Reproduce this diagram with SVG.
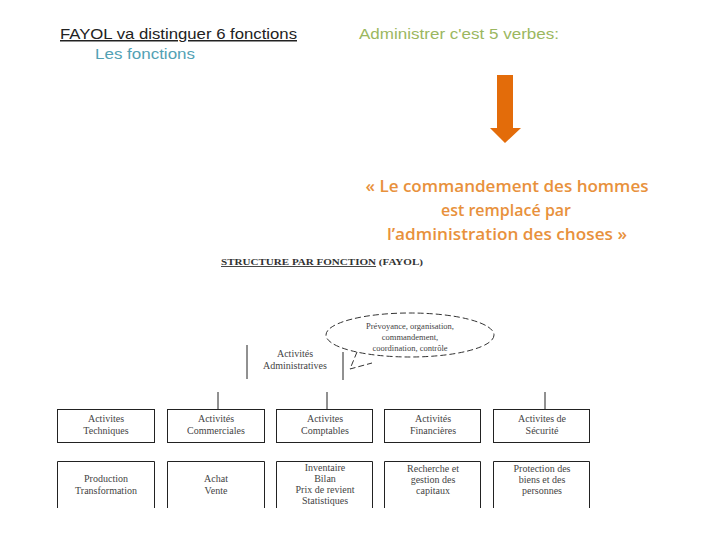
<svg xmlns="http://www.w3.org/2000/svg" width="720" height="540" viewBox="0 0 720 540">
<style>
.h{font-family:"Liberation Sans",Arial,sans-serif;font-size:15px}
.q{font-family:"Open Sans","Liberation Sans",sans-serif;font-size:16px;font-weight:600;fill:#e8913c;text-anchor:middle}
.t{font-family:"Liberation Serif","Times New Roman",serif;font-size:10px;fill:#444;text-anchor:middle}
.s{font-family:"Liberation Serif","Times New Roman",serif;font-size:8.5px;fill:#444;text-anchor:middle}
.b{fill:none;stroke:#222;stroke-width:1}
.c{fill:none;stroke:#222;stroke-width:1}
</style>
<rect width="720" height="540" fill="#fff"/>
<g id="heading-left">
<text class="h" x="60" y="39" fill="#222" text-decoration="underline" textLength="237" lengthAdjust="spacingAndGlyphs">FAYOL va distinguer 6 fonctions</text>
<text class="h" x="95" y="59" fill="#52a1b4" textLength="100" lengthAdjust="spacingAndGlyphs">Les fonctions</text>
</g>
<g id="heading-right">
<text class="h" x="359" y="39" fill="#9bb760" textLength="200" lengthAdjust="spacingAndGlyphs">Administrer c'est 5 verbes:</text>
</g>
<g id="arrow">
<polygon points="497,75 513,75 513,128 521,128 505,143 490,128 497,128" fill="#e36c0a"/>
</g>
<g id="quote">
<text class="q" x="507" y="192" textLength="283" lengthAdjust="spacingAndGlyphs">« Le commandement des hommes</text>
<text class="q" x="506" y="216">est remplacé par</text>
<text class="q" x="507" y="240" textLength="240" lengthAdjust="spacingAndGlyphs">l’administration des choses »</text>
</g>
<g id="chart-title">
<text x="221" y="265" font-family="'Liberation Serif',serif" font-size="9" font-weight="bold" fill="#333" textLength="202" lengthAdjust="spacingAndGlyphs"><tspan text-decoration="underline">STRUCTURE  PAR  FONCTION</tspan>  (FAYOL)</text>
</g>
<g id="callout">
<ellipse cx="410" cy="335" rx="84" ry="22" fill="none" stroke="#333" stroke-dasharray="6,3"/>
<path d="M357,352 L350,369 L372,363" fill="none" stroke="#333" stroke-dasharray="6,3"/>
<text class="s" x="410" y="329">Prévoyance, organisation,</text>
<text class="s" x="410" y="340">commandement,</text>
<text class="s" x="410" y="351">coordination, contrôle</text>
</g>
<g id="admin">
<line class="b" x1="247" y1="345" x2="247" y2="379"/>
<line class="b" x1="343" y1="352" x2="343" y2="380"/>
<text class="t" x="295" y="357">Activités</text>
<text class="t" x="295" y="369">Administratives</text>
</g>
<g id="connectors">
<line class="c" x1="218" y1="392" x2="218" y2="409"/>
<line class="c" x1="327" y1="392" x2="327" y2="409"/>
<line class="c" x1="545" y1="392" x2="545" y2="409"/>
</g>
<g id="tech">
<rect class="b" x="57.5" y="409.5" width="97" height="33"/>
<text class="t" x="106" y="422">Activites</text>
<text class="t" x="106" y="434">Techniques</text>
</g>
<g id="comm">
<rect class="b" x="167.5" y="409.5" width="97" height="33"/>
<text class="t" x="216" y="422">Activités</text>
<text class="t" x="216" y="434">Commerciales</text>
</g>
<g id="compt">
<rect class="b" x="276.5" y="409.5" width="96" height="33"/>
<text class="t" x="325" y="422">Activites</text>
<text class="t" x="325" y="434">Comptables</text>
</g>
<g id="fin">
<rect class="b" x="384.5" y="409.5" width="96" height="33"/>
<text class="t" x="433" y="422">Activités</text>
<text class="t" x="433" y="434">Financières</text>
</g>
<g id="secu">
<rect class="b" x="493.5" y="409.5" width="96" height="33"/>
<text class="t" x="542" y="422">Activites de</text>
<text class="t" x="542" y="434">Sécurité</text>
</g>
<g id="prod">
<path class="b" d="M57.5,508 V461.5 H154.5 V508"/>
<text class="t" x="106" y="482">Production</text>
<text class="t" x="106" y="494">Transformation</text>
</g>
<g id="achat">
<path class="b" d="M167.5,508 V461.5 H264.5 V508"/>
<text class="t" x="216" y="482">Achat</text>
<text class="t" x="216" y="494">Vente</text>
</g>
<g id="inv">
<path class="b" d="M276.5,508 V461.5 H372.5 V508"/>
<text class="t" x="325" y="471">Inventaire</text>
<text class="t" x="325" y="482">Bilan</text>
<text class="t" x="325" y="493">Prix de revient</text>
<text class="t" x="325" y="504">Statistiques</text>
</g>
<g id="rech">
<path class="b" d="M384.5,508 V461.5 H480.5 V508"/>
<text class="t" x="433" y="472">Recherche et</text>
<text class="t" x="433" y="483">gestion des</text>
<text class="t" x="433" y="494">capitaux</text>
</g>
<g id="prot">
<path class="b" d="M493.5,508 V461.5 H589.5 V508"/>
<text class="t" x="542" y="472">Protection des</text>
<text class="t" x="542" y="483">biens et des</text>
<text class="t" x="542" y="494">personnes</text>
</g>
</svg>
